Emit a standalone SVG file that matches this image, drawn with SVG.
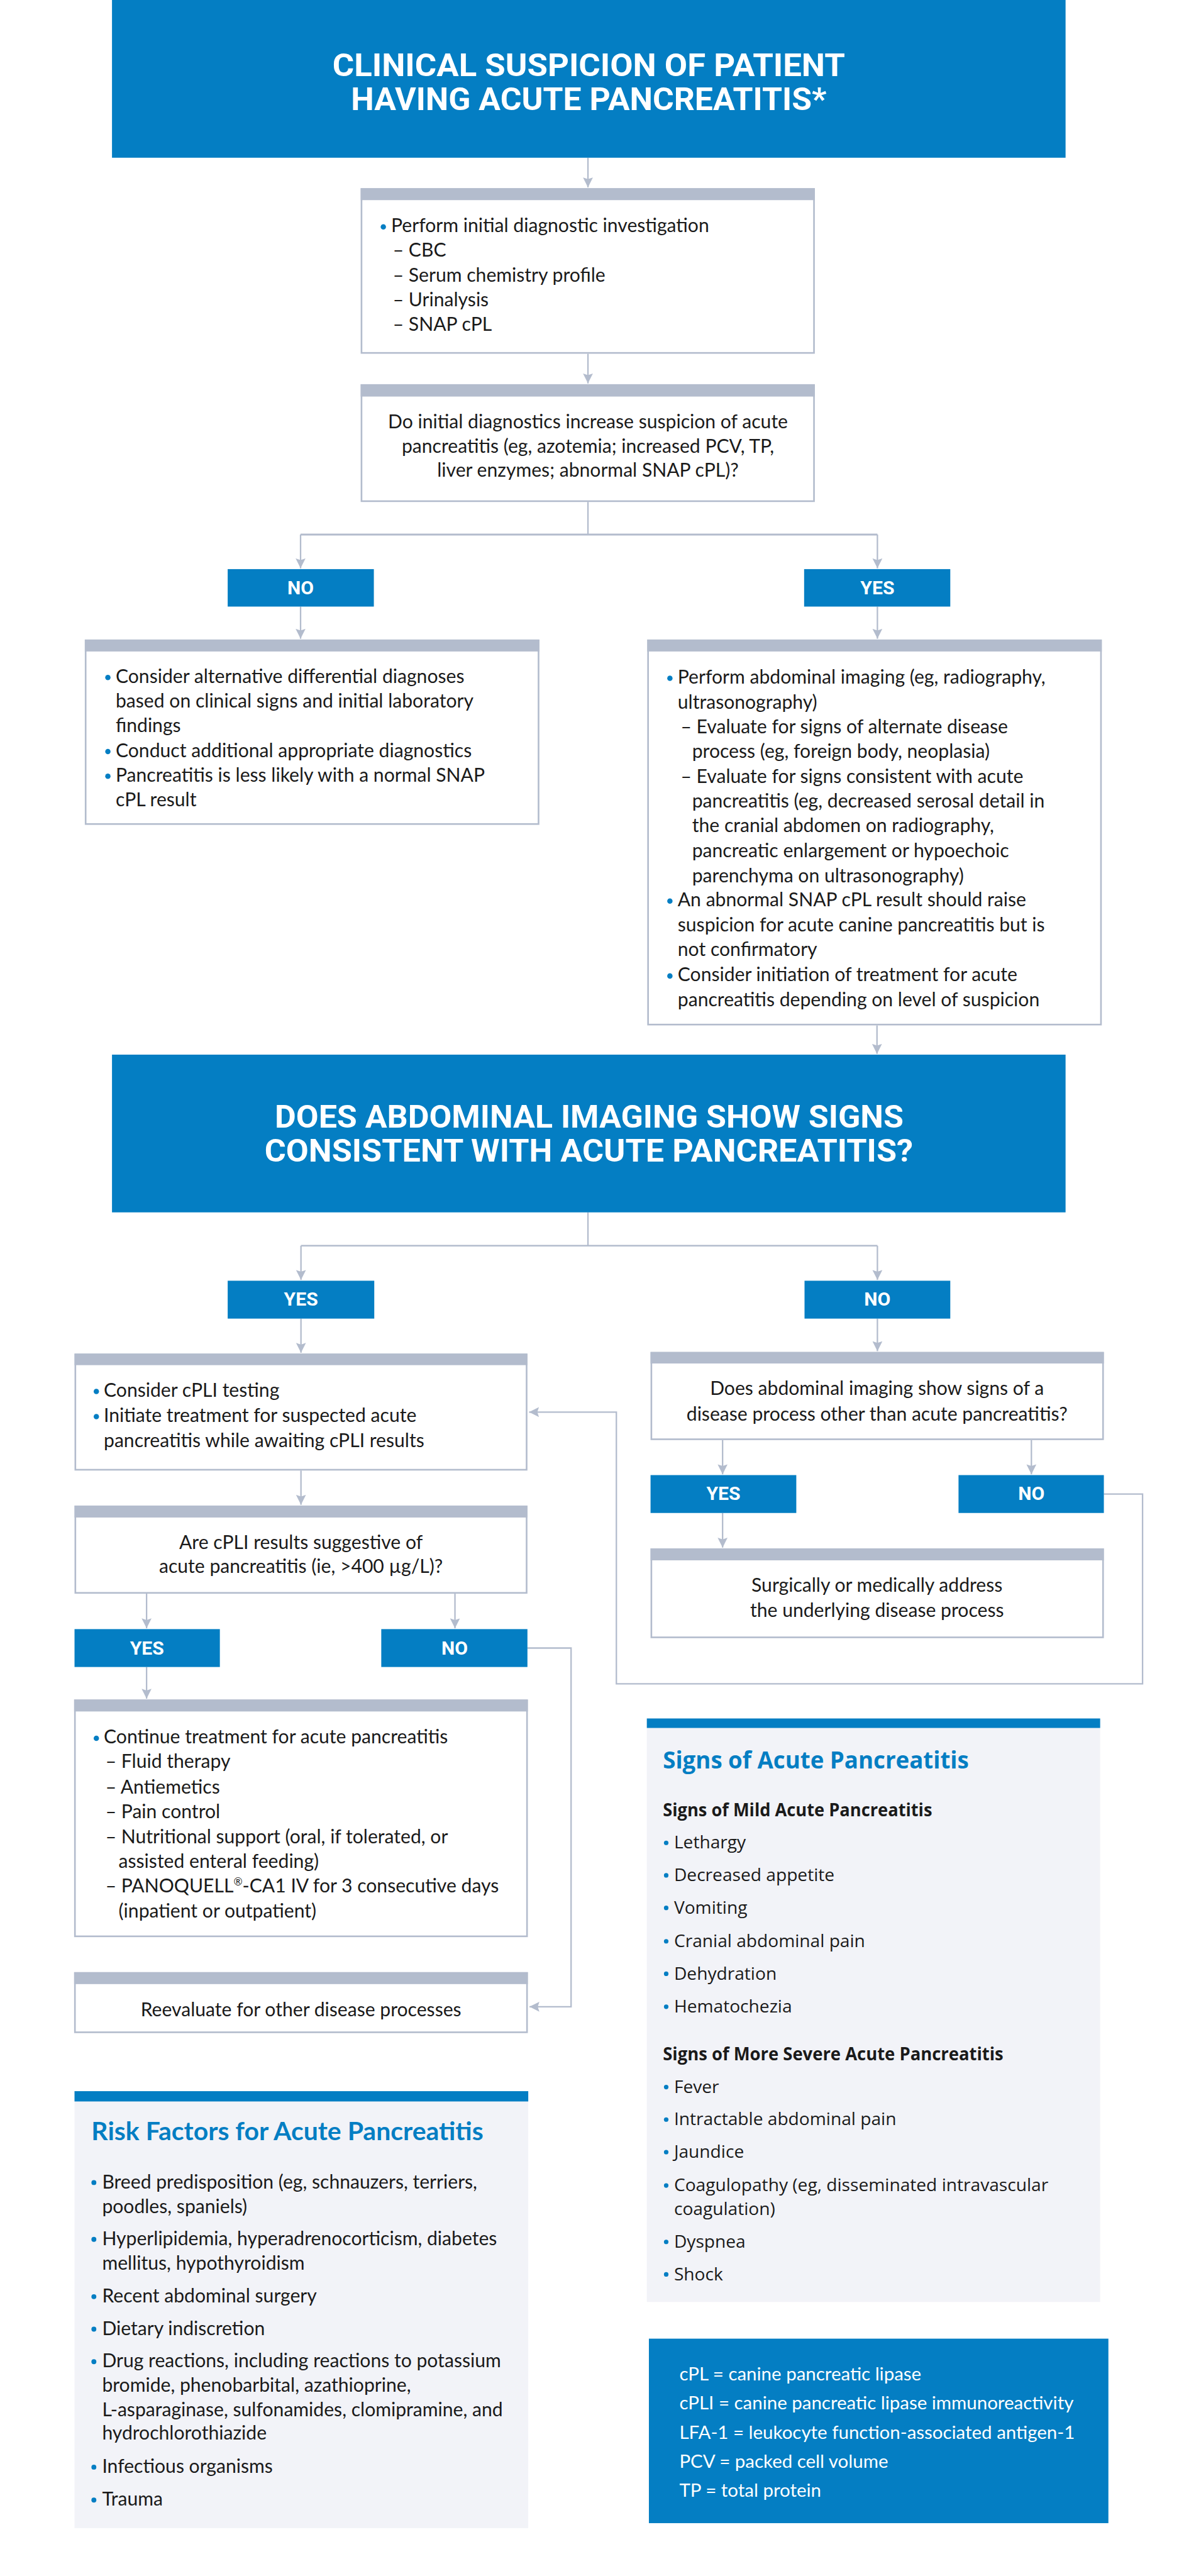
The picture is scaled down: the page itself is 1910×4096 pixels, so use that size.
<svg xmlns="http://www.w3.org/2000/svg" width="1910" height="4096" viewBox="0 0 1910 4096">
<style>
.bg{fill:#ffffff}
.blue{fill:#047ec3}
.box{fill:#ffffff;stroke:#b3bccd;stroke-width:4}
.hdr{fill:#b3bccd}
.side{fill:#f2f3f8}
.con{fill:none;stroke:#b3bccd;stroke-width:3.5}
.dot{fill:#047ec3}
.t{font-family:Lato,"Liberation Sans",sans-serif;font-size:46px;fill:#1a1a1a}
.c{text-anchor:middle}
.hd{font-family:Roboto,"Liberation Sans",sans-serif;font-weight:700;font-size:76px;fill:#ffffff;text-anchor:middle}
.yn{font-family:Roboto,"Liberation Sans",sans-serif;font-weight:700;font-size:46px;fill:#ffffff;text-anchor:middle}
.s{font-family:"Open Sans","Noto Sans",sans-serif;font-size:43px;fill:#1a1a1a}
.st{font-family:"Open Sans","Noto Sans",sans-serif;font-size:56px;font-weight:700;fill:#047ec3}
.ss{font-family:"Open Sans","Noto Sans",sans-serif;font-size:43px;font-weight:700;fill:#1a1a1a}
.rt{font-family:Lato,"Liberation Sans",sans-serif;font-size:62px;font-weight:700;fill:#047ec3}
.lg{font-family:Lato,"Liberation Sans",sans-serif;font-size:45px;font-weight:400;fill:#ffffff}
</style>
<defs>
<marker id="ah" markerUnits="userSpaceOnUse" markerWidth="26" markerHeight="26" refX="24" refY="12" orient="auto">
<path d="M0,0 L24,12 L0,24 L4,12 Z" fill="#b3bccd"/>
</marker>
</defs>
<rect class="bg" x="0" y="0" width="1910" height="4096"/>
<g transform="scale(0.6548)">

<g id="connectors">
<path class="con" d="M1428,383 V455" marker-end="url(#ah)"/>
<path class="con" d="M1428,859 V931" marker-end="url(#ah)"/>
<path class="con" d="M1428,1219 V1298"/>
<path class="con" d="M730,1298 H2131" style="stroke-width:4.5"/>
<path class="con" d="M730,1298 V1380" marker-end="url(#ah)"/>
<path class="con" d="M2131,1298 V1380" marker-end="url(#ah)"/>
<path class="con" d="M730,1473 V1551" marker-end="url(#ah)"/>
<path class="con" d="M2131,1473 V1551" marker-end="url(#ah)"/>
<path class="con" d="M2130,2490 V2559" marker-end="url(#ah)"/>
<path class="con" d="M1428,2944 V3025 M731,3025 H2131"/>
<path class="con" d="M731,3025 V3108" marker-end="url(#ah)"/>
<path class="con" d="M2131,3025 V3108" marker-end="url(#ah)"/>
<path class="con" d="M731,3202 V3285" marker-end="url(#ah)"/>
<path class="con" d="M2131,3202 V3281" marker-end="url(#ah)"/>
<path class="con" d="M731,3571 V3654" marker-end="url(#ah)"/>
<path class="con" d="M356,3870 V3954" marker-end="url(#ah)"/>
<path class="con" d="M1105,3870 V3954" marker-end="url(#ah)"/>
<path class="con" d="M356,4048 V4125" marker-end="url(#ah)"/>
<path class="con" d="M1281,4002 H1387 V4873 H1286" marker-end="url(#ah)"/>
<path class="con" d="M1755,3497 V3580" marker-end="url(#ah)"/>
<path class="con" d="M2505,3497 V3580" marker-end="url(#ah)"/>
<path class="con" d="M1755,3674 V3758" marker-end="url(#ah)"/>
<path class="con" d="M2681,3628 H2775 V4089 H1497 V3429 H1285" marker-end="url(#ah)"/>
</g>

<g id="title">
<rect class="blue" x="272" y="0" width="2316" height="383"/>
<text class="hd" x="1430" y="185" textLength="1245" lengthAdjust="spacingAndGlyphs">CLINICAL SUSPICION OF PATIENT</text>
<text class="hd" x="1430" y="268" textLength="1155" lengthAdjust="spacingAndGlyphs">HAVING ACUTE PANCREATITIS*</text>
</g>

<g id="initial-diagnostics">
<rect class="box" x="878" y="459" width="1099" height="398"/>
<rect class="hdr" x="876" y="457" width="1103" height="29"/>
<circle class="dot" cx="931" cy="551" r="6.5"/>
<text class="t" x="950" y="564">Perform initial diagnostic investigation</text>
<text class="t" x="954" y="623">– CBC</text>
<text class="t" x="954" y="684">– Serum chemistry profile</text>
<text class="t" x="954" y="744">– Urinalysis</text>
<text class="t" x="954" y="803">– SNAP cPL</text>
</g>

<g id="question-1">
<rect class="box" x="878" y="935" width="1099" height="282"/>
<rect class="hdr" x="876" y="933" width="1103" height="30"/>
<text class="t c" x="1428" y="1040">Do initial diagnostics increase suspicion of acute</text>
<text class="t c" x="1428" y="1100">pancreatitis (eg, azotemia; increased PCV, TP,</text>
<text class="t c" x="1428" y="1158">liver enzymes; abnormal SNAP cPL)?</text>
</g>

<g id="no-1">
<rect class="blue" x="553" y="1382" width="355" height="91"/>
<text class="yn" x="730" y="1443">NO</text>
</g>
<g id="yes-1">
<rect class="blue" x="1953" y="1382" width="355" height="91"/>
<text class="yn" x="2131" y="1443">YES</text>
</g>

<g id="alternative-diagnoses">
<rect class="box" x="208" y="1555" width="1100" height="446"/>
<rect class="hdr" x="206" y="1553" width="1104" height="29"/>
<circle class="dot" cx="262" cy="1645" r="6.5"/>
<text class="t" x="281" y="1658">Consider alternative differential diagnoses</text>
<text class="t" x="281" y="1718">based on clinical signs and initial laboratory</text>
<text class="t" x="281" y="1778">findings</text>
<circle class="dot" cx="262" cy="1825" r="6.5"/>
<text class="t" x="281" y="1838">Conduct additional appropriate diagnostics</text>
<circle class="dot" cx="262" cy="1885" r="6.5"/>
<text class="t" x="281" y="1898">Pancreatitis is less likely with a normal SNAP</text>
<text class="t" x="281" y="1958">cPL result</text>
</g>

<g id="abdominal-imaging">
<rect class="box" x="1574" y="1555" width="1100" height="933"/>
<rect class="hdr" x="1572" y="1553" width="1104" height="29"/>
<circle class="dot" cx="1627" cy="1647" r="6.5"/>
<text class="t" x="1646" y="1660">Perform abdominal imaging (eg, radiography,</text>
<text class="t" x="1646" y="1721">ultrasonography)</text>
<text class="t" x="1653" y="1780">– Evaluate for signs of alternate disease</text>
<text class="t" x="1681" y="1841">process (eg, foreign body, neoplasia)</text>
<text class="t" x="1653" y="1902">– Evaluate for signs consistent with acute</text>
<text class="t" x="1681" y="1961">pancreatitis (eg, decreased serosal detail in</text>
<text class="t" x="1681" y="2020">the cranial abdomen on radiography,</text>
<text class="t" x="1681" y="2081">pancreatic enlargement or hypoechoic</text>
<text class="t" x="1681" y="2142">parenchyma on ultrasonography)</text>
<circle class="dot" cx="1627" cy="2188" r="6.5"/>
<text class="t" x="1646" y="2201">An abnormal SNAP cPL result should raise</text>
<text class="t" x="1646" y="2261">suspicion for acute canine pancreatitis but is</text>
<text class="t" x="1646" y="2321">not confirmatory</text>
<circle class="dot" cx="1627" cy="2370" r="6.5"/>
<text class="t" x="1646" y="2383">Consider initiation of treatment for acute</text>
<text class="t" x="1646" y="2443">pancreatitis depending on level of suspicion</text>
</g>

<g id="question-imaging">
<rect class="blue" x="272" y="2561" width="2316" height="383"/>
<text class="hd" x="1431" y="2738" textLength="1527" lengthAdjust="spacingAndGlyphs">DOES ABDOMINAL IMAGING SHOW SIGNS</text>
<text class="hd" x="1430" y="2821" textLength="1575" lengthAdjust="spacingAndGlyphs">CONSISTENT WITH ACUTE PANCREATITIS?</text>
</g>

<g id="yes-2">
<rect class="blue" x="553" y="3110" width="356" height="92"/>
<text class="yn" x="731" y="3171">YES</text>
</g>
<g id="no-2">
<rect class="blue" x="1954" y="3110" width="354" height="92"/>
<text class="yn" x="2131" y="3171">NO</text>
</g>

<g id="consider-cpli">
<rect class="box" x="183" y="3289" width="1096" height="280"/>
<rect class="hdr" x="181" y="3287" width="1100" height="28"/>
<circle class="dot" cx="234" cy="3379" r="6.5"/>
<text class="t" x="252" y="3392">Consider cPLI testing</text>
<circle class="dot" cx="234" cy="3440" r="6.5"/>
<text class="t" x="252" y="3453">Initiate treatment for suspected acute</text>
<text class="t" x="252" y="3514">pancreatitis while awaiting cPLI results</text>
</g>

<g id="question-cpli">
<rect class="box" x="183" y="3658" width="1096" height="210"/>
<rect class="hdr" x="181" y="3656" width="1100" height="29"/>
<text class="t c" x="731" y="3761">Are cPLI results suggestive of</text>
<text class="t c" x="731" y="3820">acute pancreatitis (ie, &gt;400 µg/L)?</text>
</g>

<g id="yes-3">
<rect class="blue" x="181" y="3956" width="353" height="92"/>
<text class="yn" x="357" y="4018">YES</text>
</g>
<g id="no-3">
<rect class="blue" x="926" y="3956" width="355" height="92"/>
<text class="yn" x="1104" y="4018">NO</text>
</g>

<g id="continue-treatment">
<rect class="box" x="182" y="4129" width="1098" height="573"/>
<rect class="hdr" x="180" y="4127" width="1102" height="29"/>
<circle class="dot" cx="234" cy="4221" r="6.5"/>
<text class="t" x="252" y="4234">Continue treatment for acute pancreatitis</text>
<text class="t" x="256" y="4293">– Fluid therapy</text>
<text class="t" x="256" y="4355">– Antiemetics</text>
<text class="t" x="256" y="4415">– Pain control</text>
<text class="t" x="256" y="4476">– Nutritional support (oral, if tolerated, or</text>
<text class="t" x="288" y="4536">assisted enteral feeding)</text>
<text class="t" x="256" y="4596">– PANOQUELL<tspan font-size="26" dy="-18">®</tspan><tspan dy="18">-CA1 IV for 3 consecutive days</tspan></text>
<text class="t" x="288" y="4656">(inpatient or outpatient)</text>
</g>

<g id="reevaluate">
<rect class="box" x="182" y="4791" width="1098" height="144"/>
<rect class="hdr" x="180" y="4789" width="1102" height="29"/>
<text class="t c" x="731" y="4896">Reevaluate for other disease processes</text>
</g>

<g id="question-other">
<rect class="box" x="1582" y="3285" width="1097" height="210"/>
<rect class="hdr" x="1580" y="3283" width="1101" height="28"/>
<text class="t c" x="2130" y="3388">Does abdominal imaging show signs of a</text>
<text class="t c" x="2130" y="3450">disease process other than acute pancreatitis?</text>
</g>

<g id="yes-4">
<rect class="blue" x="1580" y="3582" width="354" height="92"/>
<text class="yn" x="1757" y="3643">YES</text>
</g>
<g id="no-4">
<rect class="blue" x="2328" y="3582" width="353" height="92"/>
<text class="yn" x="2505" y="3643">NO</text>
</g>

<g id="address-disease">
<rect class="box" x="1582" y="3762" width="1097" height="214"/>
<rect class="hdr" x="1580" y="3760" width="1101" height="29"/>
<text class="t c" x="2130" y="3866">Surgically or medically address</text>
<text class="t c" x="2130" y="3926">the underlying disease process</text>
</g>

<g id="signs-panel">
<rect class="side" x="1571" y="4173" width="1101" height="1417"/>
<rect class="blue" x="1571" y="4173" width="1101" height="23"/>
<text class="st" x="1610" y="4294" textLength="743" lengthAdjust="spacingAndGlyphs">Signs of Acute Pancreatitis</text>
<text class="ss" x="1610" y="4410" textLength="654" lengthAdjust="spacingAndGlyphs">Signs of Mild Acute Pancreatitis</text>
<circle class="dot" cx="1618" cy="4475" r="5.5"/><text class="s" x="1637" y="4489">Lethargy</text>
<circle class="dot" cx="1618" cy="4554" r="5.5"/><text class="s" x="1637" y="4568">Decreased appetite</text>
<circle class="dot" cx="1618" cy="4633" r="5.5"/><text class="s" x="1637" y="4647">Vomiting</text>
<circle class="dot" cx="1618" cy="4714" r="5.5"/><text class="s" x="1637" y="4728">Cranial abdominal pain</text>
<circle class="dot" cx="1618" cy="4793" r="5.5"/><text class="s" x="1637" y="4807">Dehydration</text>
<circle class="dot" cx="1618" cy="4873" r="5.5"/><text class="s" x="1637" y="4887">Hematochezia</text>
<text class="ss" x="1610" y="5003" textLength="827" lengthAdjust="spacingAndGlyphs">Signs of More Severe Acute Pancreatitis</text>
<circle class="dot" cx="1618" cy="5068" r="5.5"/><text class="s" x="1637" y="5082">Fever</text>
<circle class="dot" cx="1618" cy="5147" r="5.5"/><text class="s" x="1637" y="5161">Intractable abdominal pain</text>
<circle class="dot" cx="1618" cy="5226" r="5.5"/><text class="s" x="1637" y="5240">Jaundice</text>
<circle class="dot" cx="1618" cy="5307" r="5.5"/><text class="s" x="1637" y="5321">Coagulopathy (eg, disseminated intravascular</text>
<text class="s" x="1637" y="5378">coagulation)</text>
<circle class="dot" cx="1618" cy="5444" r="5.5"/><text class="s" x="1637" y="5458">Dyspnea</text>
<circle class="dot" cx="1618" cy="5523" r="5.5"/><text class="s" x="1637" y="5537">Shock</text>
</g>

<g id="risk-panel">
<rect class="side" x="181" y="5078" width="1102" height="1061"/>
<rect class="blue" x="181" y="5078" width="1102" height="25"/>
<text class="rt" x="222" y="5197" textLength="952" lengthAdjust="spacingAndGlyphs">Risk Factors for Acute Pancreatitis</text>
<circle class="dot" cx="228" cy="5300" r="6"/><text class="t" x="248" y="5314">Breed predisposition (eg, schnauzers, terriers,</text>
<text class="t" x="248" y="5374">poodles, spaniels)</text>
<circle class="dot" cx="228" cy="5438" r="6"/><text class="t" x="248" y="5452">Hyperlipidemia, hyperadrenocorticism, diabetes</text>
<text class="t" x="248" y="5512">mellitus, hypothyroidism</text>
<circle class="dot" cx="228" cy="5577" r="6"/><text class="t" x="248" y="5591">Recent abdominal surgery</text>
<circle class="dot" cx="228" cy="5656" r="6"/><text class="t" x="248" y="5670">Dietary indiscretion</text>
<circle class="dot" cx="228" cy="5735" r="6"/><text class="t" x="248" y="5749">Drug reactions, including reactions to potassium</text>
<text class="t" x="248" y="5808">bromide, phenobarbital, azathioprine,</text>
<text class="t" x="248" y="5868">L-asparaginase, sulfonamides, clomipramine, and</text>
<text class="t" x="248" y="5924">hydrochlorothiazide</text>
<circle class="dot" cx="228" cy="5991" r="6"/><text class="t" x="248" y="6005">Infectious organisms</text>
<circle class="dot" cx="228" cy="6071" r="6"/><text class="t" x="248" y="6085">Trauma</text>
</g>

<g id="abbreviations">
<rect class="blue" x="1576" y="5679" width="1116" height="448"/>
<text class="lg" x="1650" y="5780">cPL = canine pancreatic lipase</text>
<text class="lg" x="1650" y="5850">cPLI = canine pancreatic lipase immunoreactivity</text>
<text class="lg" x="1650" y="5922">LFA-1 = leukocyte function-associated antigen-1</text>
<text class="lg" x="1650" y="5993">PCV = packed cell volume</text>
<text class="lg" x="1650" y="6063">TP = total protein</text>
</g>

</g>
</svg>
